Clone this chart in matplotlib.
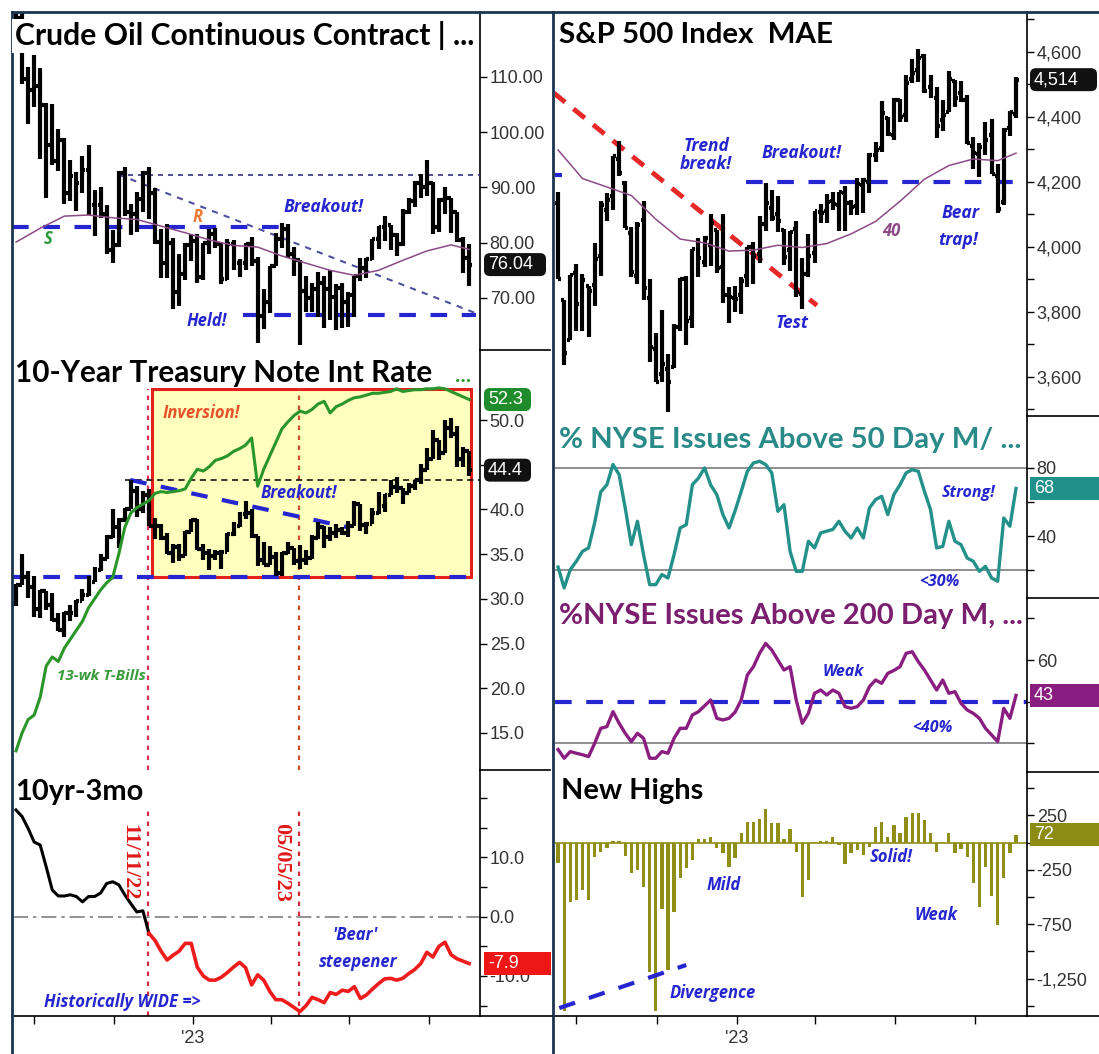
import numpy as np
import pandas as pd
import matplotlib
matplotlib.use("Agg")
import matplotlib.pyplot as plt
import matplotlib.dates as mdates
from matplotlib.patches import Rectangle, FancyBboxPatch
from matplotlib.lines import Line2D
from matplotlib.ticker import FixedLocator, FuncFormatter
from matplotlib.transforms import IdentityTransform

# ---------------------------------------------------------------- data
week_start = "2022-06-10"
n_weeks = 76

crude_open = [118.9, 120.7, 109.6, 107.6, 108.4, 104.8, 97.6, 94.7, 98.6, 89.0,
              92.1, 90.8, 93.1, 86.9, 86.8, 85.1, 78.7, 79.5, 92.6, 85.6,
              85.1, 87.9, 92.6, 89.0, 80.1, 76.3, 80.0, 71.0, 74.3, 79.6,
              80.3, 73.8, 79.9, 81.6, 79.7, 73.4, 79.7, 76.3, 76.3, 79.7,
              76.7, 66.7, 69.3, 75.7, 80.7, 82.5, 77.9, 76.8, 71.3, 70.0,
              71.6, 72.7, 71.7, 70.2, 71.8, 69.2, 70.6, 73.9, 75.4, 77.1,
              80.6, 82.8, 83.2, 81.3, 79.8, 85.6, 87.5, 90.8, 90.0, 90.8,
              82.8, 87.7, 88.1, 85.5, 80.5, 77.2]
crude_high = [123.2, 123.7, 111.8, 114.0, 111.5, 105.2, 105.0, 100.5, 99.0, 95.0,
              92.7, 95.7, 97.6, 89.6, 90.0, 86.8, 82.3, 92.9, 93.6, 87.0,
              89.1, 93.0, 93.7, 89.9, 82.4, 83.3, 80.9, 78.0, 80.0, 81.5,
              81.5, 80.0, 82.4, 82.6, 79.9, 80.6, 80.5, 77.0, 80.0, 81.0,
              77.4, 71.7, 75.7, 81.8, 83.5, 83.4, 79.2, 76.9, 74.0, 72.7,
              74.7, 73.9, 75.1, 72.5, 72.7, 71.0, 74.0, 77.3, 77.3, 80.7,
              83.0, 84.9, 83.2, 81.8, 86.0, 88.1, 91.2, 92.4, 95.0, 91.0,
              88.1, 90.0, 88.1, 85.5, 81.0, 79.8]
crude_low = [117.0, 108.6, 101.5, 104.6, 95.1, 88.0, 94.0, 93.0, 87.0, 87.6,
             85.7, 89.0, 85.0, 81.2, 84.4, 78.0, 76.3, 79.2, 84.9, 81.3,
             82.0, 85.5, 84.3, 79.8, 73.6, 73.6, 68.0, 68.5, 73.3, 76.6,
             72.7, 73.2, 77.9, 79.1, 72.5, 73.3, 75.1, 73.8, 75.1, 75.7,
             61.8, 64.4, 67.2, 75.7, 79.0, 77.2, 74.0, 61.5, 67.5, 67.5,
             66.5, 64.5, 66.0, 64.2, 64.5, 64.8, 66.5, 73.0, 73.6, 76.8,
             78.8, 80.3, 78.6, 77.6, 79.4, 85.2, 86.5, 88.0, 88.5, 81.5,
             82.0, 85.2, 81.7, 80.2, 74.6, 72.2]
crude_close = [120.7, 109.6, 107.6, 108.4, 104.8, 97.6, 94.7, 98.6, 89.0, 92.1,
               90.8, 93.1, 86.9, 86.8, 85.1, 78.7, 79.5, 92.6, 85.6, 85.1,
               87.9, 92.6, 89.0, 80.1, 76.3, 80.0, 71.0, 74.3, 79.6, 80.3,
               73.8, 79.9, 81.6, 79.7, 73.4, 79.7, 76.3, 76.3, 79.7, 76.7,
               66.7, 69.3, 75.7, 80.7, 82.5, 77.9, 76.8, 71.3, 70.0, 71.6,
               72.7, 71.7, 70.2, 71.8, 69.2, 70.6, 73.9, 75.4, 77.1, 80.6,
               82.8, 83.2, 81.3, 79.8, 85.6, 87.5, 90.8, 90.0, 90.8, 82.8,
               87.7, 88.1, 85.5, 80.5, 77.2, 76.0]
ma_weeks = [0, 4, 8, 12, 16, 20, 24, 28, 32, 36, 40, 44, 48, 52, 56, 60, 64, 68, 72, 75]
crude_ma40 = [80.1, 82.6, 84.8, 85.0, 84.5, 84.2, 83.0, 81.8, 80.5, 79.5,
              79.2, 77.6, 76.3, 75.0, 74.1, 75.0, 76.8, 78.5, 79.6, 78.8]

tnx_open = [29.4, 31.6, 32.4, 31.3, 28.9, 30.9, 29.3, 27.6, 26.5, 28.4,
            28.4, 29.8, 30.4, 31.9, 33.2, 34.5, 36.9, 38.0, 38.8, 40.0,
            42.1, 40.1, 41.6, 38.2, 38.2, 36.8, 35.1, 35.8, 34.8, 37.5,
            38.8, 35.6, 35.1, 34.8, 35.1, 35.3, 37.3, 38.2, 39.5, 39.6,
            37.0, 34.3, 33.8, 34.7, 32.9, 35.1, 35.7, 34.2, 34.4, 34.6,
            36.8, 38.0, 36.9, 37.4, 37.7, 37.4, 38.1, 40.6, 38.3, 38.4,
            39.6, 40.4, 41.6, 42.5, 42.4, 41.8, 42.6, 43.3, 44.4, 45.7,
            47.8, 46.3, 49.1, 48.4, 45.7, 46.5]
tnx_high = [31.7, 35.0, 33.1, 32.6, 31.0, 30.9, 30.7, 28.4, 28.5, 29.3,
            29.9, 31.1, 32.6, 33.6, 35.0, 37.2, 40.0, 39.0, 40.2, 43.3,
            42.6, 42.1, 42.3, 39.1, 38.4, 37.4, 36.1, 36.1, 37.6, 38.9,
            38.9, 36.1, 35.6, 35.5, 35.5, 37.4, 38.6, 39.7, 40.9, 40.1,
            37.0, 36.4, 35.9, 35.2, 35.3, 36.4, 35.7, 36.0, 35.5, 37.1,
            38.6, 38.2, 38.0, 38.4, 38.0, 38.7, 40.9, 40.6, 38.6, 40.2,
            42.0, 41.7, 43.3, 43.6, 42.4, 43.0, 43.3, 45.1, 46.9, 48.9,
            47.8, 50.0, 50.2, 49.3, 47.0, 46.5]
tnx_low = [29.2, 31.5, 30.1, 28.0, 27.9, 28.8, 27.5, 26.4, 25.7, 27.5,
           28.0, 29.8, 30.3, 31.9, 33.1, 34.5, 36.8, 35.7, 38.6, 40.0,
           39.2, 39.6, 38.1, 36.7, 36.6, 35.0, 34.0, 34.2, 34.8, 37.5,
           35.5, 34.4, 33.2, 34.4, 33.3, 35.3, 37.0, 38.0, 38.9, 36.8,
           33.7, 33.8, 33.8, 32.6, 32.6, 35.0, 33.8, 33.3, 33.8, 34.5,
           36.7, 35.7, 36.5, 36.8, 37.1, 36.9, 38.1, 37.6, 37.3, 38.4,
           39.5, 39.7, 41.6, 41.8, 40.6, 41.8, 42.2, 42.9, 44.4, 45.7,
           45.5, 46.3, 48.0, 44.8, 44.8, 43.8]
tnx_close = [31.6, 32.4, 31.3, 28.9, 30.9, 29.3, 27.6, 26.5, 28.4, 28.4,
             29.8, 30.4, 31.9, 33.2, 34.5, 36.9, 38.0, 38.8, 40.0, 42.1,
             40.1, 41.6, 38.2, 38.2, 36.8, 35.1, 35.8, 34.8, 37.5, 38.8,
             35.6, 35.1, 34.8, 35.1, 35.3, 37.3, 38.2, 39.5, 39.6, 37.0,
             34.3, 33.8, 34.7, 32.9, 35.1, 35.7, 34.2, 34.4, 34.6, 36.8,
             38.0, 36.9, 37.4, 37.7, 37.4, 38.1, 40.6, 38.3, 38.4, 39.6,
             40.4, 41.6, 42.5, 42.4, 41.8, 42.6, 43.3, 44.4, 45.7, 47.8,
             46.3, 49.1, 48.4, 45.7, 46.5, 44.4]
tbill_13wk = [13.0, 15.0, 16.5, 17.0, 19.0, 22.5, 23.5, 23.0, 24.5, 25.5,
              26.5, 27.5, 29.0, 30.0, 31.0, 31.8, 32.4, 35.0, 38.0, 39.6,
              40.2, 40.6, 41.0, 41.8, 42.0, 41.9, 42.0, 42.1, 42.3, 43.5,
              44.5, 44.3, 44.8, 45.5, 45.7, 46.0, 46.5, 46.8, 47.2, 48.0,
              42.6, 44.5, 46.0, 47.5, 49.0, 49.8, 50.5, 51.0, 50.8, 51.2,
              51.8, 52.1, 50.8, 51.5, 51.8, 52.2, 52.5, 52.6, 52.8, 53.0,
              53.0, 53.1, 53.2, 53.5, 53.2, 53.3, 53.4, 53.4, 53.5, 53.5,
              53.6, 53.5, 53.2, 52.9, 52.6, 52.3]
spread_10y3m = [18.0, 16.9, 14.9, 12.6, 12.1, 8.4, 4.5, 3.5, 3.5, 3.7,
                3.4, 2.5, 3.4, 3.4, 4.0, 5.6, 5.9, 5.4, 3.7, 2.2,
                0.8, 1.0, -2.8, -4.0, -5.8, -7.3, -6.5, -5.8, -4.5, -4.5,
                -8.5, -10.0, -10.7, -10.7, -10.2, -9.4, -8.5, -7.7, -8.6, -11.5,
                -9.8, -10.7, -12.6, -14.0, -14.0, -14.6, -15.3, -16.0, -15.0, -13.6,
                -14.0, -14.5, -12.8, -13.1, -12.4, -12.6, -11.8, -13.8, -13.2, -12.2,
                -11.3, -10.5, -10.4, -10.7, -10.4, -9.6, -8.9, -7.9, -6.0, -6.8,
                -5.0, -4.3, -6.4, -7.1, -7.5, -7.9]
inversion_week = 22   # 11/11/22
marker_week = 47      # 05/05/23

spx_open = [4134, 3838, 3715, 3920, 3792, 3880, 3883, 3972, 4112, 4155,
            4269, 4195, 4042, 3910, 4083, 3843, 3686, 3610, 3625, 3632,
            3755, 3901, 3780, 3982, 3953, 4005, 4053, 3939, 3853, 3843,
            3853, 3910, 3999, 3978, 4070, 4120, 4100, 4052, 3990, 4055,
            3855, 3917, 3982, 4108, 4110, 4140, 4128, 4166, 4136, 4126,
            4191, 4200, 4282, 4304, 4396, 4344, 4450, 4404, 4515, 4543,
            4588, 4491, 4459, 4389, 4415, 4511, 4473, 4453, 4310, 4285,
            4289, 4343, 4218, 4139, 4364, 4407]
spx_high = [4168, 3838, 3913, 3946, 3918, 3880, 4013, 4140, 4167, 4280,
            4325, 4203, 4062, 4076, 4140, 3900, 3736, 3806, 3672, 3762,
            3905, 3911, 3993, 4028, 4034, 4101, 4053, 4100, 3877, 3879,
            3906, 4000, 4015, 4095, 4195, 4176, 4156, 4054, 4048, 4079,
            3965, 4039, 4110, 4133, 4164, 4170, 4170, 4187, 4143, 4212,
            4213, 4290, 4322, 4448, 4400, 4458, 4456, 4527, 4578, 4607,
            4594, 4527, 4490, 4450, 4541, 4514, 4511, 4468, 4339, 4319,
            4385, 4394, 4256, 4365, 4418, 4521]
spx_low = [3900, 3637, 3715, 3740, 3742, 3722, 3818, 3911, 4079, 4114,
           4218, 4057, 3906, 3886, 3838, 3647, 3584, 3585, 3491, 3629,
           3742, 3698, 3750, 3906, 3938, 3940, 3919, 3828, 3765, 3800,
           3794, 3878, 3885, 3949, 4049, 4080, 4047, 3943, 3925, 3846,
           3809, 3908, 3951, 4073, 4073, 4114, 4049, 4048, 4099, 4098,
           4103, 4166, 4261, 4292, 4341, 4328, 4385, 4385, 4505, 4507,
           4474, 4458, 4335, 4356, 4415, 4430, 4446, 4317, 4238, 4216,
           4283, 4224, 4104, 4128, 4340, 4395]
spx_close = [3900, 3675, 3912, 3825, 3899, 3863, 3962, 4130, 4145, 4280,
             4228, 4058, 3924, 4067, 3873, 3693, 3586, 3640, 3583, 3753,
             3901, 3771, 3993, 3965, 4026, 4072, 3934, 3852, 3845, 3840,
             3895, 3999, 3973, 4071, 4136, 4090, 4079, 3970, 4045, 3862,
             3916, 3971, 4109, 4105, 4137, 4133, 4169, 4136, 4124, 4192,
             4205, 4282, 4299, 4410, 4348, 4450, 4399, 4505, 4536, 4582,
             4478, 4464, 4370, 4406, 4515, 4457, 4450, 4320, 4288, 4308,
             4327, 4224, 4117, 4358, 4415, 4514]
spx_ma40 = [4298, 4210, 4184, 4158, 4085, 4024, 4012, 3987, 3990, 4005,
            3998, 4010, 4040, 4078, 4140, 4208, 4250, 4270, 4265, 4288]

nyse_50d = [22, 9.8, 20.5, 25.4, 31.2, 33.2, 48, 66, 70.2, 82.0,
            76.1, 56.6, 35.1, 48.8, 29.3, 11.7, 11.7, 17.6, 15.6, 29.3,
            44.9, 46.8, 70.2, 74.1, 80.0, 70, 64.4, 52.7, 44.9, 55,
            66.3, 78.0, 82.9, 83.9, 82, 77.1, 54.6, 58.5, 31.2, 19.5,
            19.5, 37.1, 33.2, 42.0, 43, 44, 48.8, 42.9, 39.0, 44.9,
            39.0, 56.6, 61.5, 63.4, 52.7, 64.4, 70.2, 77.1, 79.0, 78.0,
            66.3, 55.6, 33.2, 34.1, 48.8, 37.1, 35.1, 27.3, 25.4, 19.5,
            22.4, 15.6, 13.7, 50.7, 45.9, 68]
nyse_200d = [17, 12.8, 16.0, 15.2, 14.5, 13.6, 20.0, 27.2, 28.0, 35.2,
             29.6, 24.8, 20.8, 24.8, 22.4, 12.8, 12.8, 16.0, 15.2, 22.4,
             27.2, 27.2, 33.6, 35.2, 38, 40.8, 32.0, 31.2, 32.0, 35,
             40.8, 52.8, 56.8, 63.2, 68.0, 64.8, 60.0, 55.2, 56.8, 40.8,
             29.6, 34.4, 44.0, 45.6, 43.2, 45.6, 44.0, 37.6, 36.8, 37.6,
             40.8, 47.2, 50.4, 48.8, 53.6, 55, 56.8, 63.2, 64.0, 59.2,
             55.2, 50.4, 45.6, 50.4, 44.0, 44.8, 39.2, 36, 34.4, 32.0,
             27.2, 24, 20.8, 36.8, 32.0, 43]
new_highs = [-190, -1545, -545, -530, -437, -530, -130, -83, -52, 18,
             18, -123, -283, -252, -406, -1191, -1545, -606, -1175, -637,
             -329, -237, -160, 31, 31, 49, -52, -98, -221, -145,
             86, 194, 194, 215, 308, 178, 185, 31, 123, -83,
             -498, -345, 9, 15, 18, 55, -22, -197, -98, -68,
             -114, -37, 142, 194, 55, 163, 86, 240, 277, 277,
             209, 92, -83, 8, 92, -98, -62, -129, -375, -591,
             -221, -492, -760, -329, -98, 72]

# annotation levels (week index, value)
crude_sr = 82.9
crude_top = 92.3
crude_trend = [(17, 92.3), (76, 67.3)]
crude_held = 66.9
tnx_support = 32.5
tnx_resist = 43.3
tnx_trend = [(18.9, 43.3), (55, 38.0)]
tnx_box = (22.5, 75.3, 32.5, 53.5)
spx_trend = [(-0.7, 4473), (42.4, 3820)]
spx_breakout = 4200
nyse50_lines = [80, 20]
nyse200_level = 40
nyse200_floor = 20
nh_div = [(0.2, -1521), (21.0, -1125)]

# ---------------------------------------------------------------- setup
plt.rcParams['font.family'] = ['Liberation Sans', 'DejaVu Sans']
W, H = 1099, 1054
fig = plt.figure(figsize=(W / 100, H / 100), dpi=100)
fig.patch.set_facecolor('white')

weeks = pd.date_range(week_start, periods=n_weeks, freq="7D")
xd = mdates.date2num(weeks.to_pydatetime())


def wk(i):
    return xd[0] + 7.0 * np.asarray(i, dtype=float)


BLUE = '#2626d0'
TICKC = '#333333'


def add_ax(xl, yt, xr, yb, bottom=False):
    ax = fig.add_axes([xl / W, 1 - yb / H, (xr - xl) / W, (yb - yt) / H])
    ax.set_facecolor('none')
    for s in ['top', 'left', 'bottom']:
        ax.spines[s].set_visible(False)
    ax.spines['right'].set_color('black')
    ax.spines['right'].set_linewidth(1.2)
    ax.yaxis.tick_right()
    ax.tick_params(axis='y', which='both', direction='out', length=5, width=1,
                   labelsize=13, labelcolor=TICKC, pad=2)
    ax.set_xlim(wk(-0.5), wk(76.8))
    if bottom:
        ax.spines['bottom'].set_visible(True)
        ax.spines['bottom'].set_color('black')
        ax.spines['bottom'].set_linewidth(1.2)
        ax.xaxis.set_major_locator(mdates.MonthLocator(bymonth=[1, 4, 7, 10]))
        ax.xaxis.set_major_formatter(FuncFormatter(
            lambda v, p: "'23" if mdates.num2date(v).month == 1 else ""))
        ax.tick_params(axis='x', direction='out', length=6, width=1,
                       labelsize=13, labelcolor=TICKC, pad=4)
    else:
        ax.tick_params(axis='x', which='both', bottom=False, labelbottom=False)
    return ax


def draw_ohlc(ax, o, h, l, c, lw=3.0, t=3.4):
    ax.vlines(xd, l, h, colors='black', lw=lw, zorder=4)
    ax.hlines(o, xd - t, xd, colors='black', lw=lw, zorder=4)
    ax.hlines(c, xd, xd + t, colors='black', lw=lw, zorder=4)


def note(ax, i, v, s, color=BLUE, size=12, ha='left', **kw):
    ax.text(wk(i), v, s, color=color, fontsize=size, fontstyle='italic',
            fontweight='bold', family=['Open Sans', 'DejaVu Sans'],
            ha=ha, va='center', zorder=6, **kw)


def seg(ax, p0, p1, **kw):
    ax.plot([wk(p0[0]), wk(p1[0])], [p0[1], p1[1]], **kw)


def fline(x0, y0, x1, y1, color='black', lw=1.0):
    fig.add_artist(Line2D([x0 / W, x1 / W], [1 - y0 / H, 1 - y1 / H],
                          transform=fig.transFigure, color=color, lw=lw, zorder=5))


# ---------------------------------------------------------------- crude
axc = add_ax(13, 12, 480, 350)
axc.set_ylim(60.6, 121.7)
axc.yaxis.set_major_locator(FixedLocator([70, 80, 90, 100, 110]))
axc.yaxis.set_major_formatter(FuncFormatter(lambda v, p: f"{v:.2f}"))
draw_ohlc(axc, crude_open, crude_high, crude_low, crude_close)
axc.plot(wk(ma_weeks), crude_ma40, color='#8c4a86', lw=1.1, zorder=5)
seg(axc, (-0.6, crude_sr), (43.7, crude_sr), color=BLUE, lw=3, dashes=(4, 3.5), zorder=3)
seg(axc, (16.9, crude_top), (77, crude_top), color='#303080', lw=1.2, dashes=(3, 3), zorder=3)
seg(axc, crude_trend[0], crude_trend[1], color='#5050a0', lw=1.5, dashes=(3, 3), zorder=3)
seg(axc, (37.6, crude_held), (76.2, crude_held), color=BLUE, lw=3, dashes=(4, 3.5), zorder=3)
note(axc, 5.3, 80.6, "S", color='#2a9a3a', size=12, ha='center')
note(axc, 30.1, 84.7, "R", color='#f07830', size=12, ha='center')
note(axc, 44.3, 86.4, "Breakout!", size=12.5)
note(axc, 28.3, 65.8, "Held!", size=12)

# ---------------------------------------------------------------- 10-yr
axt = add_ax(13, 350, 480, 770)
axt.set_ylim(10.86, 57.84)
axt.yaxis.set_major_locator(FixedLocator(np.arange(15, 51, 5)))
axt.yaxis.set_major_formatter(FuncFormatter(
    lambda v, p: "" if abs(v - 45) < 0.1 else f"{v:.1f}"))
bx0, bx1, by0, by1 = tnx_box
axt.add_patch(Rectangle((wk(bx0), by0), wk(bx1) - wk(bx0), by1 - by0,
                        facecolor='#ffffbe', edgecolor='#e4201c', lw=2.2, zorder=1))
frac_top = (by1 - 10.86) / (57.84 - 10.86)
axt.axvline(wk(inversion_week) - 1, ymin=0, ymax=frac_top,
            color='#d8305a', lw=1.6, dashes=(2, 2.5), zorder=2)
axt.axvline(wk(marker_week) - 1, ymin=0, ymax=frac_top,
            color='#c8502a', lw=1.6, dashes=(2, 2.5), zorder=2)
seg(axt, (-0.6, tnx_support), (77, tnx_support), color=BLUE, lw=3, dashes=(4, 3.5), zorder=3)
seg(axt, (18, tnx_resist), (77, tnx_resist), color='black', lw=1.1, dashes=(4, 3), zorder=3)
seg(axt, tnx_trend[0], tnx_trend[1], color=BLUE, lw=3, dashes=(4, 3.5), zorder=3)
axt.plot(xd, tbill_13wk, color='#2a962a', lw=2.2, zorder=5)
draw_ohlc(axt, tnx_open, tnx_high, tnx_low, tnx_close)
note(axt, 24.3, 50.8, "Inversion!", color='#e8502a', size=12)
note(axt, 40.4, 41.8, "Breakout!", size=12)
note(axt, 6.8, 21.4, "13-wk T-Bills", color='#3a9a3a', size=11)

# ---------------------------------------------------------------- 10yr-3mo
axs = add_ax(13, 770, 480, 1016, bottom=True)
axs.set_ylim(-16.75, 24.75)
axs.yaxis.set_major_locator(FixedLocator([-10, 0, 10]))
axs.yaxis.set_minor_locator(FixedLocator([-15, -5, 5, 15, 20]))
axs.yaxis.set_major_formatter(FuncFormatter(lambda v, p: f"{v:.1f}"))
axs.axhline(0, color='#808080', lw=1.2, dashes=(9, 3, 2, 3), zorder=1)
for wv in (inversion_week, marker_week):
    axs.axvline(wk(wv) - 1, ymin=0, ymax=(18.3 + 16.75) / 41.5,
                color='#d42a40', lw=1.6, dashes=(2, 2.5), zorder=2)
k = inversion_week
axs.plot(xd[:k + 1], spread_10y3m[:k + 1], color='black', lw=2.2, zorder=4)
axs.plot(xd[k:], spread_10y3m[k:], color='#ee1c1c', lw=2.6, zorder=4)
for wv, lab in ((18.8, "11/11/22"), (43.8, "05/05/23")):
    axs.text(wk(wv), 9.2, lab, rotation=270, color='#e01818', fontsize=16,
             fontweight='bold', family=['Liberation Serif', 'DejaVu Serif'],
             ha='center', va='center', zorder=6)
note(axs, 56.2, -3.1, "'Bear'", size=12, ha='center')
note(axs, 56.6, -7.6, "steepener", size=12, ha='center')
note(axs, 4.6, -14.4, "Historically WIDE =>", size=12)

# ---------------------------------------------------------------- S&P 500
axp = add_ax(555, 12, 1027, 416)
axp.set_ylim(3480, 4722)
axp.yaxis.set_major_locator(FixedLocator(np.arange(3600, 4601, 200)))
axp.yaxis.set_minor_locator(FixedLocator(np.arange(3500, 4701, 100)))
axp.yaxis.set_major_formatter(FuncFormatter(lambda v, p: f"{v:,.0f}"))
seg(axp, spx_trend[0], spx_trend[1], color='#e62828', lw=3.5, dashes=(3, 2.2), zorder=3)
seg(axp, (-1.0, 4220), (0.6, 4220), color=BLUE, lw=3, dashes=(4, 3.5), zorder=3)
seg(axp, (30.8, spx_breakout), (77, spx_breakout), color=BLUE, lw=3, dashes=(4, 3.5), zorder=3)
axp.plot(wk(ma_weeks), spx_ma40, color='#8c4a86', lw=1.1, zorder=5)
draw_ohlc(axp, spx_open, spx_high, spx_low, spx_close)
note(axp, 20.5, 4310, "Trend", size=12.5)
note(axp, 20.0, 4255, "break!", size=12.5)
note(axp, 33.3, 4290, "Breakout!", size=12.5)
note(axp, 38.3, 3765, "Test", size=12.5, ha='center')
note(axp, 66.0, 4105, "Bear", size=12.5, ha='center')
note(axp, 65.6, 4020, "trap!", size=12.5, ha='center')
note(axp, 54.5, 4050, "40", color='#8c4a86', size=12, ha='center')

# ---------------------------------------------------------------- NYSE 50 day
ax5 = add_ax(555, 416, 1027, 598)
ax5.set_ylim(3.9, 110.4)
ax5.yaxis.set_major_locator(FixedLocator([40, 80]))
ax5.yaxis.set_minor_locator(FixedLocator([20, 60]))
for lv in nyse50_lines:
    ax5.axhline(lv, color='#707070', lw=1.1, zorder=1)
ax5.plot(xd, nyse_50d, color='#23908a', lw=2.4, zorder=4)
note(ax5, 62.9, 65.4, "Strong!", size=11.5)
note(ax5, 59.1, 13.3, "<30%", size=11.5)

# ---------------------------------------------------------------- NYSE 200 day
ax2 = add_ax(555, 598, 1027, 772)
ax2.set_ylim(6.2, 89.8)
ax2.yaxis.set_major_locator(FixedLocator([60]))
ax2.yaxis.set_minor_locator(FixedLocator([20, 40, 80]))
ax2.axhline(nyse200_floor, color='#707070', lw=1.1, zorder=1)
ax2.axhline(nyse200_level, color=BLUE, lw=3, dashes=(4, 3.5), zorder=2)
ax2.plot(xd, nyse_200d, color='#8a1e80', lw=2.4, zorder=4)
note(ax2, 43.4, 54.2, "Weak", size=11.5)
note(ax2, 58.0, 27.4, "<40%", size=11.5)

# ---------------------------------------------------------------- New Highs
axh = add_ax(555, 772, 1027, 1016, bottom=True)
axh.set_ylim(-1594, 650)
axh.yaxis.set_major_locator(FixedLocator([-1250, -750, -250, 250]))
axh.yaxis.set_minor_locator(FixedLocator([-1500, -1000, -500, 0, 500]))
axh.yaxis.set_major_formatter(FuncFormatter(lambda v, p: f"{v:,.0f}"))
axh.axhline(0, color='#8c8c14', lw=1.2, zorder=2)
axh.bar(xd, new_highs, width=3.8, color='#8f8f18', zorder=3)
seg(axh, nh_div[0], nh_div[1], color=BLUE, lw=3, dashes=(4, 3.5), zorder=4)
note(axh, 24.3, -391, "Mild", size=12)
note(axh, 51.0, -131, "Solid!", size=12)
note(axh, 58.3, -665, "Weak", size=12)
note(axh, 18.2, -1385, "Divergence", size=12)

# ---------------------------------------------------------------- frame lines
NAVY = '#1b3550'
fline(12, 12, 12, 1054, NAVY, 2.0)
fline(553, 12, 553, 1054, NAVY, 2.0)
fline(12, 12, 1099, 12, NAVY, 2.0)
for yy in (350, 770):
    fline(480, yy, 550, yy, 'black', 1.2)
for yy in (416, 598, 772):
    fline(1027, yy, 1099, yy, 'black', 1.2)
fline(480, 1016, 552, 1016, 'black', 1.2)
fline(1027, 1016, 1099, 1016, 'black', 1.2)

# ---------------------------------------------------------------- titles
renderer = fig.canvas.get_renderer()


def title(x, y, s, target_w, color='black', bg=False):
    t = fig.text(x / W, 1 - y / H, s, color=color, fontsize=16, fontweight='bold',
                 family=['Lato', 'DejaVu Sans'], va='center', ha='left', zorder=10)
    bb = t.get_window_extent(renderer)
    t.set_fontsize(16 * target_w / bb.width)
    if bg:
        t.set_bbox(dict(facecolor='white', edgecolor='none', pad=2))
    return t


title(15, 36, "Crude Oil Continuous Contract | ...", 460, bg=True)
title(15, 373, "10-Year Treasury Note Int Rate", 418)
fig.text(455 / W, 1 - 376 / H, "...", color='#2a9a2a', fontsize=16, fontweight='bold',
         family=['Lato', 'DejaVu Sans'], va='center', ha='left', zorder=10)
title(15, 792, "10yr-3mo", 128)
title(559, 35, "S&P 500 Index  MAE", 274)
title(559, 440, "% NYSE Issues Above 50 Day M/ ...", 464, color='#2a8a88')
title(559, 616, "%NYSE Issues Above 200 Day M, ...", 464, color='#7a1e6e')
title(561, 791, "New Highs", 143)


# ---------------------------------------------------------------- value tags
def tag(ax, val, text, fc, xl, xr, rounded=True, h=23):
    yd = ax.transData.transform((ax.get_xlim()[0], val))[1]
    style = "round,pad=0,rounding_size=6" if rounded else "square,pad=0"
    fig.add_artist(FancyBboxPatch((xl, yd - h / 2), xr - xl, h, boxstyle=style,
                                  transform=IdentityTransform(), facecolor=fc,
                                  edgecolor='none', zorder=8))
    fig.text((xl + 4) / W, yd / H, text, color='white', fontsize=13,
             va='center', ha='left', zorder=9)


tag(axc, 76.04, "76.04", '#111111', 484, 546)
tag(axt, 52.3, "52.3", '#1e8c2a', 484, 531)
tag(axt, 44.4, "44.4", '#111111', 484, 531)
tag(axs, -7.9, "-7.9", '#ee1616', 484, 551, rounded=False)
tag(axp, 4514, "4,514", '#111111', 1030, 1097)
tag(ax5, 68, "68", '#20908a', 1030, 1099, rounded=False)
tag(ax2, 43, "43", '#8a1e80', 1030, 1099, rounded=False)
tag(axh, 72, "72", '#8c8c14', 1030, 1099, rounded=False)

fig.savefig("out.png", dpi=100, facecolor='white')
